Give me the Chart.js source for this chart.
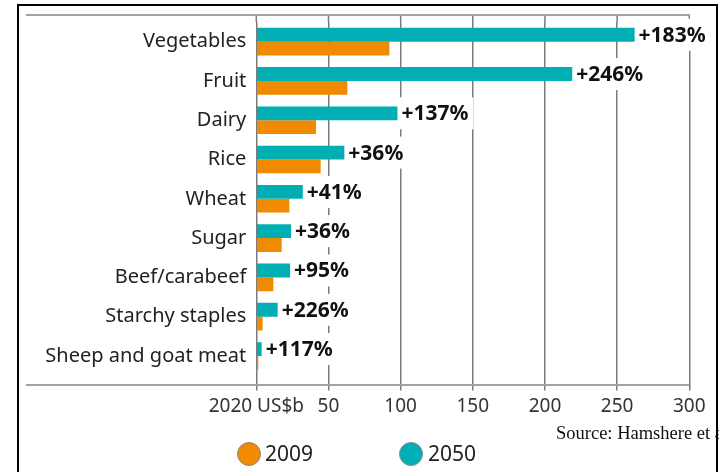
<!DOCTYPE html>
<html>
<head>
<meta charset="utf-8">
<script src="https://cdn.jsdelivr.net/npm/chart.js@4.4.1/dist/chart.umd.min.js"></script>
<style>
  html, body { margin: 0; padding: 0; background: #fff; }
  body { width: 719px; height: 472px; position: relative; overflow: hidden; font-family: "Noto Sans", sans-serif; }
  #chart { position: absolute; left: 0; top: 0; }
  .frame { position: absolute; left: 17px; top: 4px; width: 697px; height: 480px; border: 2px solid #000; border-bottom: none; z-index: 3; }
  .dot { position: absolute; top: 442px; width: 22px; height: 22px; border-radius: 50%; border: 1px solid #8a8a8a; }
  .lg { position: absolute; top: 441px; font-size: 21px; line-height: 24px; color: #222; }
  .source { position: absolute; left: 556px; top: 423px; font-family: "Liberation Serif", "Times New Roman", serif; font-size: 18.5px; color: #111; white-space: nowrap; }
</style>
</head>
<body>
<canvas id="chart" width="719" height="472"></canvas>
<div class="frame"></div>
<div class="dot" style="left:237px;background:#f08a00"></div>
<div class="lg" style="left:265px">2009</div>
<div class="dot" style="left:399px;background:#00aeb4"></div>
<div class="lg" style="left:428px">2050</div>
<div class="source">Source: Hamshere et al.</div>
<script>
const CATEGORIES = [
  "Vegetables", "Fruit", "Dairy", "Rice", "Wheat", "Sugar",
  "Beef/carabeef", "Starchy staples", "Sheep and goat meat"
];
const VALUES_2009 = [92.2, 63.1, 41.4, 44.6, 22.9, 17.6, 11.8, 4.4, 1.4];
const VALUES_2050 = [262.1, 218.9, 97.8, 61.0, 32.2, 24.1, 23.4, 14.8, 3.7];
const GROWTH = ["+183%", "+246%", "+137%", "+36%", "+41%", "+36%", "+95%", "+226%", "+117%"];
const X_MIN = 0, X_MAX = 300, X_STEP = 50;
const ZERO_LABEL = "2020 US$b";

const TEAL = "#00aeb4";
const ORANGE = "#f08a00";
const GRID = "#7b7b7b";
const RULE = "#a3a3a3";
const LABEL_FONT = "bold 21px 'Noto Sans'";

// rules, grid tops and white boxes behind the growth labels
const decorations = {
  id: "decorations",
  beforeDatasetsDraw(chart) {
    const { ctx, chartArea, scales } = chart;
    const x = scales.x;
    ctx.save();
    ctx.strokeStyle = GRID;
    ctx.lineWidth = 1.5;
    x.ticks.forEach(t => {
      const px = x.getPixelForValue(t.value);
      ctx.beginPath();
      ctx.moveTo(px, 15);
      ctx.lineTo(px, chartArea.top);
      ctx.stroke();
    });

    ctx.strokeStyle = RULE;
    ctx.lineWidth = 2;
    ctx.beginPath();
    ctx.moveTo(26, 15); ctx.lineTo(690, 15);
    ctx.moveTo(26, 385); ctx.lineTo(689, 385);
    ctx.stroke();

    ctx.font = LABEL_FONT;
    ctx.fillStyle = "#fff";
    chart.getDatasetMeta(0).data.forEach((bar, i) => {
      const w = ctx.measureText(GROWTH[i]).width;
      ctx.fillRect(bar.x + 1, bar.y - 16, w + 8, 32);
    });
    ctx.restore();
  },
  afterDatasetsDraw(chart) {
    const { ctx } = chart;
    ctx.save();
    ctx.font = LABEL_FONT;
    ctx.fillStyle = "#111";
    ctx.textAlign = "left";
    ctx.textBaseline = "middle";
    chart.getDatasetMeta(0).data.forEach((bar, i) => {
      ctx.fillText(GROWTH[i], bar.x + 4, bar.y + 1);
    });
    ctx.restore();
  }
};

new Chart(document.getElementById("chart"), {
  type: "bar",
  data: {
    labels: CATEGORIES,
    datasets: [
      { label: "2050", data: VALUES_2050, backgroundColor: TEAL },
      { label: "2009", data: VALUES_2009, backgroundColor: ORANGE }
    ]
  },
  options: {
    indexAxis: "y",
    responsive: false,
    animation: false,
    devicePixelRatio: 1,
    datasets: { bar: { barPercentage: 1, categoryPercentage: 0.7035 } },
    layout: { padding: { top: 17.4, right: 29.7, left: 0, bottom: 0 } },
    plugins: { legend: { display: false }, tooltip: { enabled: false } },
    scales: {
      x: {
        min: X_MIN,
        max: X_MAX,
        afterFit(scale) { scale.height = 472 - 375.6; },
        ticks: {
          stepSize: X_STEP,
          padding: 5,
          maxRotation: 0,
          minRotation: 0,
          autoSkip: false,
          color: "#333",
          font: { family: "Noto Sans", size: 19 },
          callback: v => (v === 0 ? ZERO_LABEL : v)
        },
        grid: { color: GRID, lineWidth: 1.5, tickLength: 15, tickColor: GRID },
        border: { display: false }
      },
      y: {
        afterFit(scale) { scale.width = 256.3; },
        ticks: {
          padding: 10,
          color: "#222",
          font: { family: "Noto Sans", size: 20 }
        },
        grid: { display: false, drawTicks: false },
        border: { display: false }
      }
    }
  },
  plugins: [decorations]
});
</script>
</body>
</html>
